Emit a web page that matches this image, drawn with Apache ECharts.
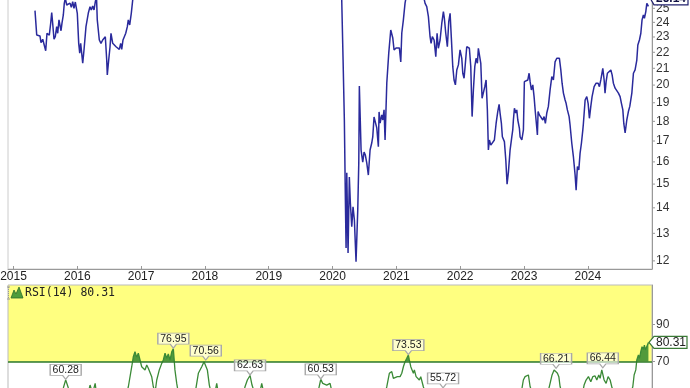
<!DOCTYPE html>
<html>
<head>
<meta charset="utf-8">
<script src="https://cdn.jsdelivr.net/npm/echarts@6/dist/echarts.min.js"></script>
<style>
html,body{margin:0;padding:0;background:#fff;}
#c{width:690px;height:388px;}
</style>
</head>
<body>
<div id="c"></div>
<script>
// ---- data (dates as decimal years) ----
const priceDates = [
 2015.337,2015.364,2015.389,2015.415,2015.431,2015.458,2015.483,2015.505,2015.525,2015.545,
 2015.561,2015.583,2015.599,2015.614,2015.635,2015.655,2015.677,2015.693,2015.713,2015.729,
 2015.745,2015.760,2015.781,2015.796,2015.812,2015.834,2015.859,2015.886,2015.906,2015.928,
 2015.948,2015.969,2015.991,2016.000,2016.022,2016.038,2016.053,2016.085,2016.105,2016.136,
 2016.172,2016.199,2016.219,2016.241,2016.262,2016.282,2016.301,2016.313,2016.345,2016.371,
 2016.398,2016.418,2016.439,2016.461,2016.470,2016.492,2016.513,2016.528,2016.555,2016.580,
 2016.607,2016.633,2016.658,2016.680,2016.696,2016.716,2016.737,2016.759,2016.784,2016.799,
 2016.821,2016.846,2016.868,
 2016.9,2017.0,2017.25,2017.5,2017.75,2018.0,2018.25,2018.5,2018.75,2019.0,
 2019.25,2019.5,2019.75,2020.0,2020.1,2020.13,
 2020.144,2020.165,2020.185,2020.201,2020.212,2020.223,2020.243,2020.263,2020.279,2020.301,
 2020.321,2020.342,2020.368,2020.395,2020.411,2020.420,2020.447,2020.473,2020.494,2020.514,
 2020.536,2020.561,2020.588,2020.614,2020.630,2020.650,2020.671,2020.693,2020.718,2020.729,
 2020.745,2020.771,2020.787,2020.807,2020.823,2020.850,2020.881,2020.912,2020.944,2020.964,
 2020.995,2021.022,2021.047,2021.069,2021.085,2021.110,2021.136,2021.152,
 2021.2,2021.3,2021.4,
 2021.439,2021.450,2021.476,2021.502,2021.528,2021.544,2021.564,2021.591,2021.618,2021.638,
 2021.658,2021.685,2021.712,2021.737,2021.752,2021.774,2021.799,2021.821,2021.842,2021.862,
 2021.884,2021.904,2021.925,2021.947,2021.972,2021.998,2022.025,2022.041,2022.061,2022.077,
 2022.103,2022.124,2022.144,2022.166,2022.187,2022.207,2022.229,2022.249,2022.270,2022.285,
 2022.301,2022.323,2022.343,2022.364,2022.386,2022.406,2022.426,2022.442,2022.458,2022.480,
 2022.505,2022.536,2022.563,2022.589,2022.610,2022.625,2022.646,2022.661,2022.693,2022.715,
 2022.735,2022.756,2022.782,2022.809,2022.824,2022.834,2022.850,2022.871,2022.887,2022.903,
 2022.928,2022.939,2022.966,2022.991,2023.006,2023.033,2023.060,2023.080,2023.096,2023.116,
 2023.138,2023.158,2023.179,2023.201,2023.210,2023.221,2023.241,2023.268,2023.295,2023.315,
 2023.335,2023.357,2023.382,2023.409,2023.436,2023.461,2023.487,2023.514,2023.539,2023.555,
 2023.577,2023.597,2023.618,2023.644,2023.660,2023.680,2023.707,2023.722,2023.749,2023.774,
 2023.801,2023.817,2023.837,2023.859,2023.879,2023.900,2023.922,2023.931,2023.958,2023.984,
 2024.005,2024.025,2024.047,2024.067,2024.099,2024.130,2024.162,2024.182,2024.204,2024.235,
 2024.256,2024.270,2024.287,2024.307,2024.329,2024.361,2024.381,2024.401,2024.428,2024.455,
 2024.480,2024.506,2024.527,2024.549,2024.564,2024.585,2024.611,2024.636,2024.658,2024.690,
 2024.715,2024.741,2024.768,2024.784,2024.809,2024.831,2024.850,2024.871,2024.887,2024.909,
 2024.925,2024.95
];
const priceValues = [
 24.83,23.13,23.07,23.07,22.62,22.85,22.80,22.10,23.25,23.36,
 23.13,23.94,24.69,23.94,22.85,23.02,23.70,23.25,24.17,24.29,
 23.42,23.94,24.52,25.36,25.75,25.24,25.36,25.38,25.07,25.48,
 25.00,25.46,25.36,24.64,22.58,21.94,22.58,21.31,22.15,23.70,
 24.64,25.12,24.88,25.17,24.88,25.48,25.83,24.17,22.80,22.58,
 22.80,22.69,23.02,21.51,20.60,21.51,22.36,23.25,22.58,22.47,
 22.36,22.26,22.19,22.58,22.19,22.80,23.02,23.25,23.70,24.17,
 23.82,24.64,25.60,
 26.4,27.2,28.5,30.4,31.0,32.1,30.2,29.4,28.6,27.4,
 28.8,29.1,28.3,29.0,27.8,26.6,
 25.60,21.51,18.07,14.33,12.46,15.50,12.28,15.31,14.21,13.25,
 14.04,13.52,11.97,13.92,15.95,19.95,16.56,15.99,16.46,16.32,
 15.95,15.40,16.56,16.90,17.20,18.23,18.18,17.66,16.72,18.50,
 17.91,18.34,18.07,18.61,17.05,20.12,21.96,23.47,22.93,22.15,
 22.28,22.21,22.28,21.39,23.27,24.17,25.38,25.80,
 26.5,27.0,26.5,
 25.60,25.36,25.12,24.40,23.02,22.58,23.02,22.80,21.72,23.25,
 22.26,22.80,23.94,24.76,24.29,23.25,22.36,24.05,24.64,22.91,
 21.10,20.30,20.01,20.90,21.21,22.15,21.62,20.70,20.40,21.10,
 22.36,22.47,22.26,21.10,18.25,19.72,21.10,21.62,21.31,22.26,
 22.36,21.31,19.25,19.15,19.91,20.30,18.61,16.56,17.05,16.80,
 16.89,17.05,17.89,18.52,18.91,18.44,17.89,17.21,16.97,16.09,
 15.00,15.53,16.56,17.21,17.56,18.07,18.70,18.44,18.61,18.07,
 17.64,17.21,17.05,17.56,20.20,20.20,20.30,20.70,20.20,19.72,
 20.01,19.34,18.44,17.64,17.30,18.52,18.34,18.34,18.07,18.25,
 17.89,18.44,18.80,19.72,20.50,20.30,21.40,21.62,21.51,21.62,
 20.90,20.11,19.54,19.15,18.97,18.61,18.25,17.81,16.89,16.25,
 15.40,14.74,15.79,15.63,16.41,16.89,17.56,17.89,19.15,19.34,
 18.97,18.16,18.80,19.34,19.91,20.11,20.11,19.91,20.30,21.00,
 20.30,19.54,20.20,20.70,20.60,20.90,20.60,20.11,19.82,19.72,
 19.54,19.34,18.97,18.61,17.89,17.40,18.07,18.52,18.80,19.54,
 20.70,20.90,21.51,22.47,22.80,23.25,24.17,24.52,24.29,24.76,
 25.36,25.14
];
const rsiDates = [
 2014.93,2015.05,2015.2,2015.35,2015.5,2015.65,2015.76,2015.781,2015.818,2015.86,
 2015.95,2016.05,2016.15,2016.2,2016.24,2016.28,2016.33,2016.5,2016.65,2016.75,
 2016.8,2016.853,2016.878,2016.904,2016.931,2016.956,2016.983,2017.009,2017.034,2017.061,
 2017.088,2017.113,2017.14,2017.166,2017.191,2017.22,2017.245,2017.285,2017.323,2017.348,
 2017.375,2017.401,2017.426,2017.453,2017.48,2017.505,2017.53,2017.558,2017.6,2017.7,
 2017.8,2017.86,2017.897,2017.95,2017.986,2018.013,2018.038,2018.069,2018.12,2018.16,
 2018.185,2018.21,2018.3,2018.45,2018.6,2018.628,2018.665,2018.707,2018.738,2018.8,
 2018.87,2018.89,2018.93,2019.1,2019.3,2019.5,2019.7,2019.78,2019.815,2019.846,
 2019.875,2019.909,2019.961,2019.99,2020.1,2020.2,2020.3,2020.4,2020.5,2020.6,
 2020.7,2020.8,2020.85,2020.89,2020.928,2020.953,2020.98,2021.016,2021.058,2021.085,
 2021.11,2021.136,2021.163,2021.188,2021.203,2021.226,2021.246,2021.267,2021.282,2021.309,
 2021.329,2021.36,2021.382,2021.423,2021.5,2021.6,2021.7,2021.732,2021.77,2021.9,
 2022.05,2022.2,2022.35,2022.5,2022.65,2022.75,2022.85,2022.95,2022.99,2023.017,
 2023.044,2023.069,2023.096,2023.15,2023.25,2023.35,2023.409,2023.44,2023.472,2023.503,
 2023.524,2023.546,2023.566,2023.65,2023.8,2023.9,2023.942,2023.973,2024.01,2024.047,
 2024.078,2024.114,2024.141,2024.172,2024.193,2024.219,2024.235,2024.256,2024.287,2024.318,
 2024.35,2024.38,2024.45,2024.55,2024.62,2024.68,2024.705,2024.726,2024.752,2024.768,
 2024.793,2024.809,2024.83,2024.85,2024.871,2024.887,2024.903,2024.95
];
const rsiValues = [
 50,44,52,46,41,50,54,55.9,60.28,55.9,
 48,38,50,57.5,53,58.4,45,40,47,50,
 56.6,67.3,72.7,75.3,72.3,74.5,70.9,67.3,68.2,65.6,
 68.2,66.5,65.6,62.0,56.6,54,60.2,65.6,69.1,70.9,
 74.5,71.8,74.1,70.9,75.3,76.95,65.6,58.4,50,45,
 52,56,63.8,67.3,70.0,70.56,65.6,57.5,50,54,
 58.4,53,42,48,52,56.6,60.2,62.63,57.5,51,
 55,58.4,52,45,50,47,52,55,60.53,58.4,
 59.3,57.5,58.4,54,45,25,30,42,48,50,
 52,50,56.6,63.8,64.7,61.1,60.2,62.0,62.0,63.8,
 67.3,70.0,71.8,73.53,70.9,67.3,65.6,63.8,65.6,62.0,
 61.1,60.2,62.0,56.6,48,50,54,55.72,50,42,
 48,44,46,38,45,36,48,52,60.2,62.0,
 62.4,62.9,56.6,52,48,50,58.4,62.9,65.6,66.21,
 63.8,62.0,56.6,48,38,50,57.5,60.2,62.0,59.3,
 62.0,62.4,60.2,62.9,61.1,65.6,66.44,60.2,58.4,62.0,
 60.2,56,50,42,48,54,56.6,62.9,65.6,70.9,
 73.6,71.8,75.3,78.0,76.6,78.9,76.3,80.31
];
const rsiPeakDates  = [2015.818,2017.505,2018.013,2018.707,2019.815,2021.188,2021.732,2023.503,2024.235];
const rsiPeakValues = [60.28,76.95,70.56,62.63,60.53,73.53,55.72,66.21,66.44];
const yearTicks  = [2015,2016,2017,2018,2019,2020,2021,2022,2023,2024];
const priceTicks = [12,13,14,15,16,17,18,19,20,21,22,23,24,25];
const rsiTicks   = [30,50,70,90];
const lastPrice = 25.14;
const lastRsi = 80.31;
const rsiLabel = 'RSI(14) ' + lastRsi.toFixed(2);

const X_MIN = 2014.914, X_MAX = 2025.006;
const FONT = '"Liberation Sans", Arial, sans-serif';

const chart = echarts.init(document.getElementById('c'), null, {renderer: 'canvas'});
const priceData = priceDates.map((d, i) => [d, priceValues[i]]);
const rsiData = rsiDates.map((d, i) => [d, rsiValues[i]]);

const hiddenX = (gi) => ({type:'value', gridIndex:gi, min:X_MIN, max:X_MAX, show:false});

const option = {
  animation: false,
  backgroundColor: '#ffffff',
  grid: [
    {left:8, right:38, top:-2, height:271, show:true, borderColor:'#cccccc', borderWidth:1, backgroundColor:'transparent', outerBoundsMode:'none', containLabel:false},
    {left:8, right:38, top:285, height:76.7, show:true, borderWidth:0, backgroundColor:'#ffff80', outerBoundsMode:'none', containLabel:false},
    {left:8, right:38, top:285, height:207.6, show:true, borderColor:'#bbbbbb', borderWidth:1, backgroundColor:'transparent', outerBoundsMode:'none', containLabel:false}
  ],
  xAxis: [
    {type:'value', gridIndex:0, min:X_MIN, max:X_MAX,
     axisLine:{show:true, lineStyle:{color:'#999999'}},
     axisTick:{show:true, inside:true, length:3, customValues:yearTicks, lineStyle:{color:'#999999'}},
     axisLabel:{show:true, customValues:yearTicks, margin:2, color:'#222222', fontSize:12, fontFamily:FONT,
                formatter:(v)=>String(Math.round(v))},
     splitLine:{show:false}},
    hiddenX(1),
    hiddenX(2)
  ],
  yAxis: [
    {type:'log', gridIndex:0, position:'right', logBase:10, min:11.72, max:25.76,
     axisLine:{show:true, lineStyle:{color:'#999999'}}, axisTick:{show:false}, axisLabel:{show:false}, splitLine:{show:false}},
    {type:'value', gridIndex:1, min:70, max:111, show:false},
    {type:'value', gridIndex:2, position:'right', min:0, max:111,
     axisLine:{show:true, lineStyle:{color:'#999999'}},
     axisTick:{show:true, length:3, customValues:rsiTicks, lineStyle:{color:'#999999'}},
     axisLabel:{show:true, customValues:rsiTicks, margin:4, color:'#333333', fontSize:12, fontFamily:FONT},
     splitLine:{show:false}}
  ],
  series: [
    {type:'line', xAxisIndex:0, yAxisIndex:0, data:priceData, showSymbol:false, clip:true,
     lineStyle:{color:'#2a2a9c', width:1.5}, itemStyle:{color:'#2a2a9c'}, z:3},
    {type:'line', xAxisIndex:1, yAxisIndex:1, data:rsiData, showSymbol:false, clip:true,
     lineStyle:{width:0, opacity:0}, areaStyle:{origin:'start', color:'#3f8f33', opacity:0.9}, z:2},
    {type:'line', xAxisIndex:2, yAxisIndex:2, data:rsiData, showSymbol:false, clip:true,
     lineStyle:{color:'#3a8a36', width:1.3}, itemStyle:{color:'#3a8a36'}, z:3,
     markLine:{silent:true, symbol:'none', label:{show:false},
       lineStyle:{color:'#2e7a2a', width:1.5, type:'solid'}, data:[{yAxis:70}]},
     markPoint:{
       symbol:'path://M0,0L30,0L30,11L18,11L15,15L12,11L0,11Z',
       symbolSize:[31,15], symbolOffset:[0,-8],
       itemStyle:{color:'rgba(255,255,255,0.6)', borderColor:'#a8a8a8', borderWidth:1},
       label:{show:true, position:'inside', offset:[0,-2], color:'#222222', fontSize:10.5, fontFamily:FONT,
              formatter:(p)=>Number(p.value).toFixed(2)},
       data: rsiPeakDates.map((d,i)=>({coord:[d, rsiPeakValues[i]], value:rsiPeakValues[i]}))
     }}
  ]
};
chart.setOption(option);

// Price axis ticks & labels (log scale positions via library)
const g = [];
const xRight = chart.convertToPixel({xAxisIndex:0}, X_MAX);
priceTicks.forEach(v => {
  const y = chart.convertToPixel({yAxisIndex:0}, v);
  g.push({type:'line', silent:true, shape:{x1:xRight, y1:y, x2:xRight+3, y2:y}, style:{stroke:'#999999', lineWidth:1}});
  g.push({type:'text', silent:true, x:xRight+4, y:y,
    style:{text:String(v), font:'12px ' + FONT, fill:'#333333', align:'left', verticalAlign:'middle'}});
});
// last price tag
{
  const yc = chart.convertToPixel({yAxisIndex:0}, lastPrice) - 8.5;
  const x0 = xRight + 1;
  g.push({type:'polygon', silent:true, shape:{points:[[x0-3,yc],[x0+1,yc-7],[x0+35,yc-7],[x0+35,yc+7],[x0+1,yc+7]]},
    style:{fill:'#ffffff', stroke:'#22226e', lineWidth:1.2}, z:10});
  g.push({type:'text', silent:true, x:x0+18, y:yc+0.5, z:11,
    style:{text:lastPrice.toFixed(2), font:'bold 12px ' + FONT, fill:'#111144', align:'center', verticalAlign:'middle'}});
}
// last RSI tag
{
  const yc = chart.convertToPixel({yAxisIndex:2}, lastRsi);
  const x0 = xRight + 1;
  g.push({type:'polygon', silent:true, shape:{points:[[x0-4,yc],[x0+1,yc-6],[x0+34,yc-6],[x0+34,yc+6],[x0+1,yc+6]]},
    style:{fill:'#ffffff', stroke:'#3a7a36', lineWidth:1.2}, z:10});
  g.push({type:'text', silent:true, x:x0+18, y:yc+0.5, z:11,
    style:{text:lastRsi.toFixed(2), font:'12px ' + FONT, fill:'#222222', align:'center', verticalAlign:'middle'}});
}
// RSI legend
g.push({type:'polyline', silent:true, shape:{points:[[7,287],[10,287]]}, style:{stroke:'#999', lineWidth:1}, z:10});
g.push({type:'polyline', silent:true, shape:{points:[[8.5,287],[8.5,299]]}, style:{stroke:'#999', lineWidth:1, lineDash:[1,1]}, z:10});
g.push({type:'polyline', silent:true, shape:{points:[[7,299],[10,299]]}, style:{stroke:'#999', lineWidth:1}, z:10});
g.push({type:'polygon', silent:true, shape:{points:[[11,298],[14,290],[16,294],[19,287],[23,298]]},
  style:{fill:'#4e9e3c', stroke:'#2f6e2a', lineWidth:0.8}, z:10});
g.push({type:'text', silent:true, x:25, y:293.5, z:10,
  style:{text:rsiLabel, font:'11.5px "DejaVu Sans Mono", monospace', fill:'#222222', align:'left', verticalAlign:'middle'}});

chart.setOption({graphic: g});
</script>
</body>
</html>
